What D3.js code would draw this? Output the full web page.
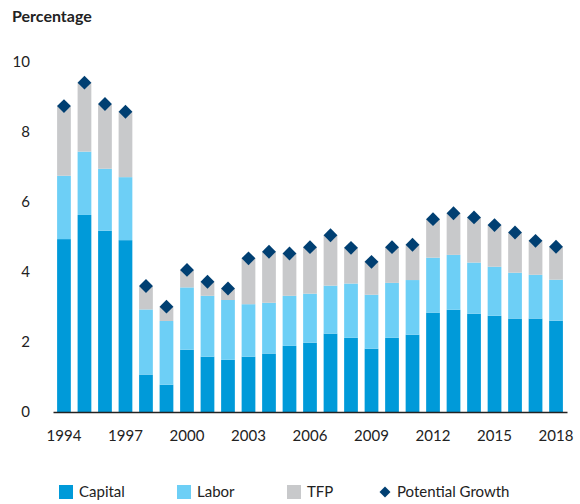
<!DOCTYPE html>
<html lang="en">
<head>
<meta charset="UTF-8">
<title>Potential growth</title>
<style>
  body { margin: 0; background: #fff; }
  text { font-family: Lato, "Noto Sans", sans-serif; fill: #222; }
</style>
</head>
<body>
<script src="https://d3js.org/d3.v7.min.js"></script>
<script>
var years = [1994, 1995, 1996, 1997, 1998, 1999, 2000, 2001, 2002, 2003, 2004, 2005, 2006,
             2007, 2008, 2009, 2010, 2011, 2012, 2013, 2014, 2015, 2016, 2017, 2018];
var capital = [4.94, 5.63, 5.18, 4.91, 1.07, 0.78, 1.78, 1.58, 1.49, 1.58, 1.67, 1.89, 1.98,
               2.24, 2.12, 1.81, 2.12, 2.21, 2.84, 2.92, 2.81, 2.75, 2.67, 2.67, 2.61];
var labor = [1.81, 1.81, 1.77, 1.80, 1.86, 1.82, 1.78, 1.74, 1.71, 1.50, 1.45, 1.43, 1.40,
             1.37, 1.55, 1.54, 1.57, 1.56, 1.57, 1.57, 1.46, 1.40, 1.31, 1.25, 1.17];
var tfp = [1.99, 1.97, 1.85, 1.87, 0.67, 0.41, 0.50, 0.40, 0.33, 1.31, 1.46, 1.21, 1.33,
           1.44, 1.02, 0.94, 1.02, 1.01, 1.10, 1.19, 1.29, 1.19, 1.15, 0.97, 0.94];
var growth = [8.74, 9.41, 8.80, 8.58, 3.60, 3.01, 4.06, 3.72, 3.53, 4.39, 4.58, 4.53, 4.71,
              5.05, 4.69, 4.29, 4.71, 4.78, 5.51, 5.68, 5.56, 5.34, 5.13, 4.89, 4.72];
var yTicks = [0, 2, 4, 6, 8, 10];
var xTickYears = [1994, 1997, 2000, 2003, 2006, 2009, 2012, 2015, 2018];
var seriesNames = ['Capital', 'Labor', 'TFP'];
var colors = {Capital: '#009ad9', Labor: '#6dcff6', TFP: '#c8c9cb'};
var diamondColor = '#003f72';

var width = 580, height = 504;
var margin = {top: 62, right: 13, bottom: 92, left: 53};

var svg = d3.select('body').append('svg')
    .attr('width', width)
    .attr('height', height);

var x = d3.scaleBand()
    .domain(years)
    .range([margin.left, width - margin.right])
    .paddingInner(0.33)
    .paddingOuter(0.2);

var y = d3.scaleLinear()
    .domain([0, 10])
    .range([height - margin.bottom, margin.top]);

var table = years.map(function(yr, i) {
    return {year: yr, Capital: capital[i], Labor: labor[i], TFP: tfp[i]};
});
var stacked = d3.stack().keys(seriesNames)(table);

svg.append('g').selectAll('g')
    .data(stacked)
  .enter().append('g')
    .attr('fill', function(d) { return colors[d.key]; })
  .selectAll('rect')
    .data(function(d) { return d; })
  .enter().append('rect')
    .attr('x', function(d) { return x(d.data.year); })
    .attr('width', x.bandwidth())
    .attr('y', function(d) { return y(d[1]); })
    .attr('height', function(d) { return y(d[0]) - y(d[1]); });

// diamonds
var diamond = d3.symbol().type(d3.symbolSquare).size(96);
svg.append('g').selectAll('path')
    .data(growth)
  .enter().append('path')
    .attr('d', diamond)
    .attr('fill', diamondColor)
    .attr('transform', function(d, i) {
        return 'translate(' + (x(years[i]) + x.bandwidth() / 2) + ',' + y(d) + ') rotate(45)';
    });

// x axis
var xAxis = d3.axisBottom(x).tickValues(xTickYears).tickSize(0).tickPadding(18);
var gx = svg.append('g')
    .attr('transform', 'translate(0,' + y(0) + ')')
    .call(xAxis);
gx.select('.domain').attr('stroke', '#222').attr('stroke-width', 1.5);
gx.selectAll('text').style('font-size', '15px').attr('fill', '#222');

// y axis
var yAxis = d3.axisLeft(y).tickValues(yTicks).tickSize(0).tickPadding(23);
var gy = svg.append('g')
    .attr('transform', 'translate(' + margin.left + ',0)')
    .call(yAxis);
gy.select('.domain').remove();
gy.selectAll('text').style('font-size', '15px').attr('fill', '#222');

svg.append('text')
    .attr('x', 12)
    .attr('y', 22)
    .style('font-size', '16px')
    .style('font-weight', 'bold')
    .text('Percentage');

// legend
var legendY = 492;
var legendItems = [
    {name: 'Capital', x: 59, type: 'rect'},
    {name: 'Labor', x: 177, type: 'rect'},
    {name: 'TFP', x: 287, type: 'rect'},
    {name: 'Potential Growth', x: 378, type: 'diamond'}
];
var lg = svg.append('g').selectAll('g')
    .data(legendItems)
  .enter().append('g')
    .attr('transform', function(d) { return 'translate(' + d.x + ',' + legendY + ')'; });

lg.filter(function(d) { return d.type === 'rect'; })
  .append('rect')
    .attr('x', 0).attr('y', -7)
    .attr('width', 14).attr('height', 14)
    .attr('fill', function(d) { return colors[d.name]; });

lg.filter(function(d) { return d.type === 'diamond'; })
  .append('path')
    .attr('d', d3.symbol().type(d3.symbolSquare).size(60))
    .attr('transform', 'translate(7,0) rotate(45)')
    .attr('fill', diamondColor);

lg.append('text')
    .attr('x', function(d) { return d.type === 'diamond' ? 19 : 20; })
    .attr('dy', '0.35em')
    .style('font-size', '15px')
    .text(function(d) { return d.name; });
</script>
</body>
</html>
